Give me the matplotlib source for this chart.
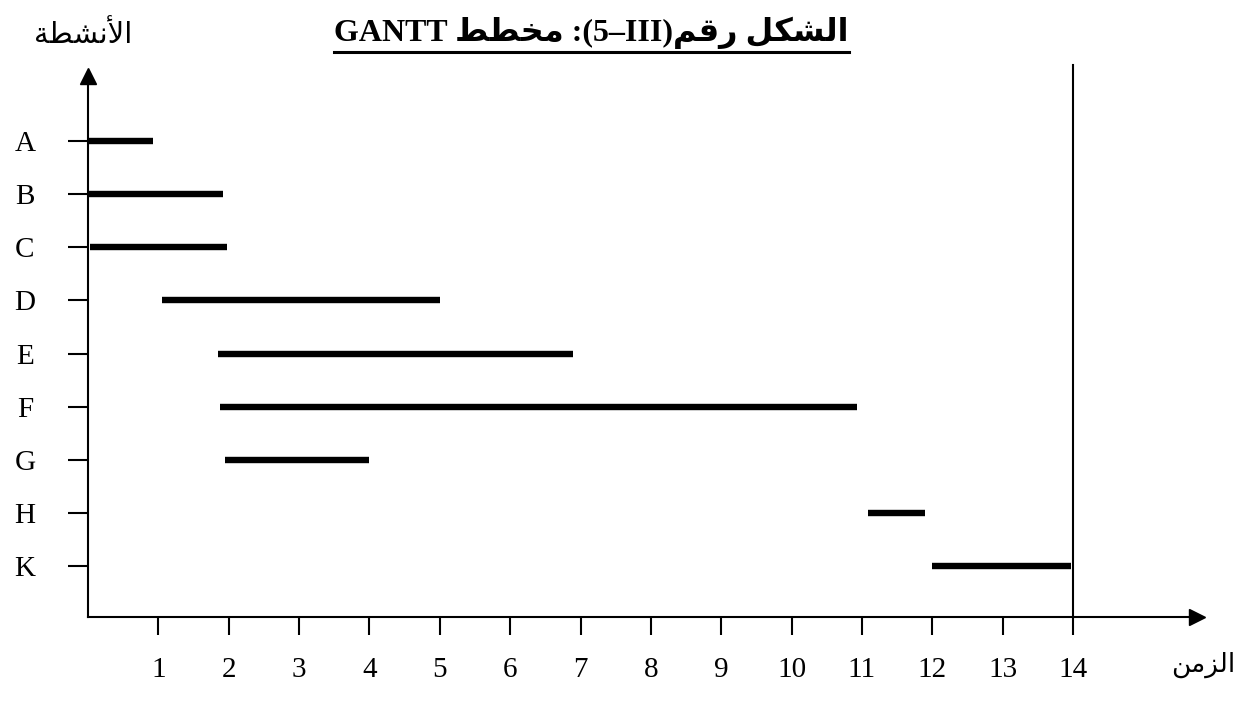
import numpy as np
import matplotlib.pyplot as plt
from matplotlib.lines import Line2D

activities = ['A', 'B', 'C', 'D', 'E', 'F', 'G', 'H', 'K']
start = [0.0, 0.0, 0.03, 1.05, 1.85, 1.87, 1.95, 11.08, 12.0]
finish = [0.93, 1.92, 1.98, 5.0, 6.9, 10.93, 4.0, 11.9, 13.97]
time_ticks = list(range(1, 15))
deadline = 14

# arabic strings already shaped (presentation forms) and in visual order,
# matplotlib does no bidi / joining by itself
title_txt = ('GANTT ' + '\ufec2\ufec4\ufea8\ufee3' + ' :(5\u2013III)'
             + '\ufee2\ufed7\ufead' + ' ' + '\ufede\ufedc\ufeb8\ufedf\ufe8d')
ylab_txt = '\ufe94\ufec4\ufeb8\ufee7\ufef7\ufe8d'   # الأنشطة
xlab_txt = '\ufee6\ufee3\ufeb0\ufedf\ufe8d'         # الزمن

plt.rcParams['font.family'] = ['Liberation Serif', 'DejaVu Sans']

W, H = 1247, 704
fig = plt.figure(figsize=(W / 100, H / 100), dpi=100)

# frame in pixels: origin, arrow ends, one day / one row
x0, x1 = 88, 1197
y0, y1 = 617, 76
px_day = (1073 - 88) / 14
row0, px_row = 141, (566 - 141) / 8

ax = fig.add_axes([x0 / W, 1 - y0 / H, (x1 - x0) / W, (y0 - y1) / H])
ax.set_xlim(0, (x1 - x0) / px_day)
ax.set_ylim((y0 - row0) / px_row, (y1 - row0) / px_row)

ypos = np.arange(len(activities))
ax.hlines(ypos, start, finish, color='black', lw=4.6)
ax.axvline(deadline, ymin=0, ymax=1 + 11 / (y0 - y1), color='black',
           lw=1.5, clip_on=False)

ax.spines[['top', 'right']].set_visible(False)
ax.spines[['left', 'bottom']].set_linewidth(1.5)
ax.plot(1, 0, '>k', ms=12, transform=ax.transAxes, clip_on=False)
ax.plot(0, 1, '^k', ms=12, transform=ax.transAxes, clip_on=False)

ax.set_xticks(time_ticks)
ax.set_yticks(ypos, activities)
ax.tick_params(axis='x', length=13, width=1.5, pad=16, labelsize=21)
ax.tick_params(axis='y', length=14.4, width=1.5, pad=31, labelsize=21)
for lab in ax.get_yticklabels():
    lab.set_ha('center')

t = fig.text(591.5 / W, 1 - 41 / H, title_txt, ha='center', va='baseline',
             fontsize=23, fontweight='bold')
fig.text(83 / W, 1 - 35 / H, ylab_txt, ha='center', va='center', fontsize=21)
fig.text(1203 / W, 1 - 665 / H, xlab_txt, ha='center', va='center', fontsize=19)

# underline the title
fig.canvas.draw()
bb = t.get_window_extent()
fig.add_artist(Line2D([bb.x0 / W, bb.x1 / W], [1 - 52 / H] * 2,
                      transform=fig.transFigure, color='black', lw=2.2))

fig.savefig('out.png', dpi=100)
